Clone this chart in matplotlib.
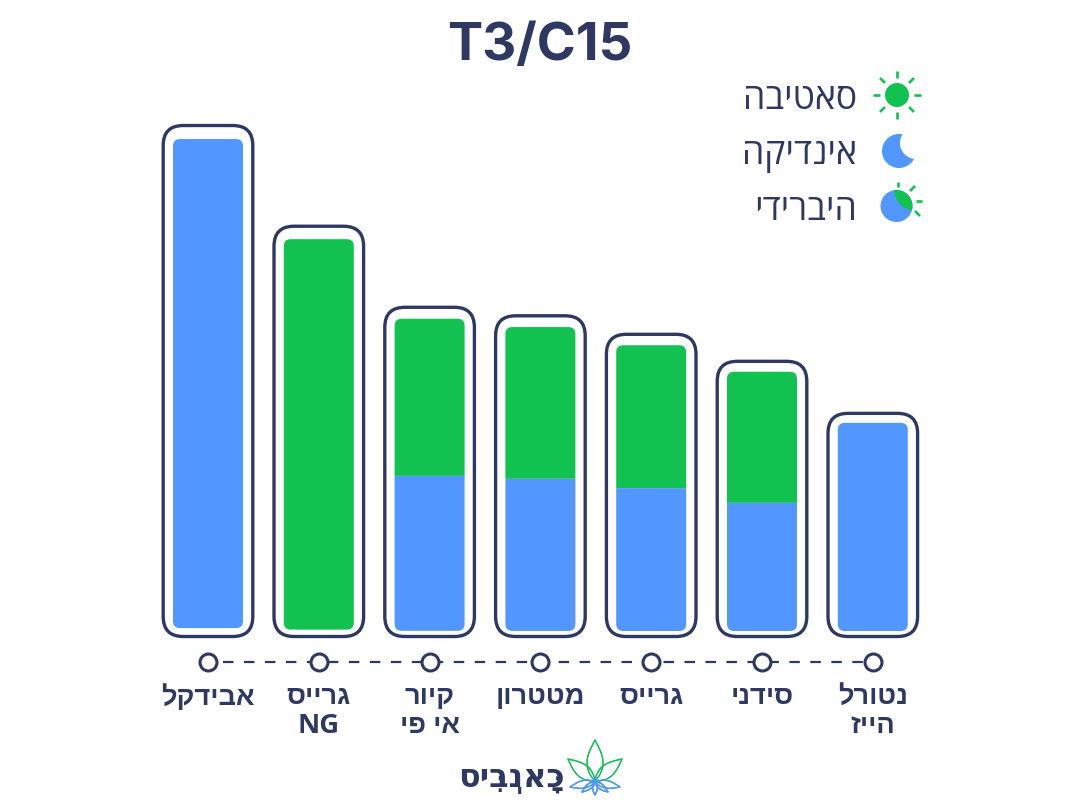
import unicodedata
import numpy as np
from matplotlib import pyplot as plt
from matplotlib.collections import LineCollection
from matplotlib.colors import to_rgb
from matplotlib.patches import Circle, PathPatch
from matplotlib.path import Path

plt.rcParams['font.family'] = ['Open Sans', 'Liberation Sans', 'DejaVu Sans']

# ===================== data =====================
title = "T3/C15"
strains = ["אבידקל", "גרייס\nNG", "קיור\nאי פי", "מטטרון", "גרייס", "סידני", "נטורל\nהייז"]
indica = [100.2, 0.0, 31.6, 31.0, 29.1, 26.1, 42.4]
sativa = [0.0, 79.8, 32.0, 30.9, 29.1, 26.7, 0.0]
legend_labels = ["סאטיבה", "אינדיקה", "היברידי"]
logo_text = "כָּאנְבִּיס"

NAVY = "#2f3763"
GREEN = "#12c250"
BLUE = "#5297ff"

W, H = 1080, 812
PX_PER_CAT = 110.8
PX_PER_UNIT = 4.91
BASE_X = 208
BASE_Y = 632


def clusters_of(s):
    clusters = []
    for ch in s:
        if unicodedata.combining(ch) and clusters:
            clusters[-1] += ch
        else:
            clusters.append(ch)
    return clusters


def rtl(s):
    # matplotlib has no bidi, so flip the letters but keep latin runs readable
    out = []
    run = []
    for c in clusters_of(s):
        if c.isascii() and c != " ":
            run.append(c)
        else:
            if run:
                out.append("".join(run))
                run = []
            # zero width marks go first so they land on the letter, not after it
            out.append(c[1:] + c[0])
    if run:
        out.append("".join(run))
    return "".join(reversed(out))


def rtl_lines(s):
    return "\n".join(rtl(line) for line in s.split("\n"))


fig = plt.figure(figsize=(W / 100, H / 100), dpi=100)

# value axes fills the figure, scales place the bars
ax = fig.add_axes([0, 0, 1, 1])
ax.set_xlim(-BASE_X / PX_PER_CAT, (W - BASE_X) / PX_PER_CAT)
ax.set_ylim(-(H - BASE_Y) / PX_PER_UNIT, BASE_Y / PX_PER_UNIT)
ax.axis("off")

# pixel overlay for title, legend, logo
ov = fig.add_axes([0, 0, 1, 1], facecolor="none")
ov.set_xlim(0, W)
ov.set_ylim(H, 0)
ov.axis("off")


def round_rect(x0, x1, y0, y1, r_top, r_bottom, **kw):
    rx_t, ry_t = r_top / PX_PER_CAT, r_top / PX_PER_UNIT
    rx_b, ry_b = r_bottom / PX_PER_CAT, r_bottom / PX_PER_UNIT
    verts = [(x0 + rx_b, y0), (x1 - rx_b, y0), (x1, y0), (x1, y0 + ry_b),
             (x1, y1 - ry_t), (x1, y1), (x1 - rx_t, y1),
             (x0 + rx_t, y1), (x0, y1), (x0, y1 - ry_t),
             (x0, y0 + ry_b), (x0, y0), (x0 + rx_b, y0), (x0 + rx_b, y0)]
    codes = [Path.MOVETO, Path.LINETO, Path.CURVE3, Path.CURVE3,
             Path.LINETO, Path.CURVE3, Path.CURVE3,
             Path.LINETO, Path.CURVE3, Path.CURVE3,
             Path.LINETO, Path.CURVE3, Path.CURVE3, Path.CLOSEPOLY]
    p = PathPatch(Path(verts, codes), **kw)
    ax.add_patch(p)
    return p


bar_half = 35 / PX_PER_CAT
frame_half = 44.8 / PX_PER_CAT
for i, (ind, sat) in enumerate(zip(indica, sativa)):
    total = ind + sat
    h_px = total * PX_PER_UNIT
    # inner bar sits a little higher in the taller frames
    lift = max(0.0, (h_px - 300) * 0.015) / PX_PER_UNIT
    pad_top = min(13.5, 5.5 + 0.019 * h_px) / PX_PER_UNIT
    top = total
    round_rect(i - frame_half, i + frame_half, -5.5 / PX_PER_UNIT, top + pad_top, 20, 20,
               facecolor="white", edgecolor=NAVY, linewidth=2.4, zorder=2)
    if ind > 0:
        round_rect(i - bar_half, i + bar_half, lift, ind, 0 if sat > 0 else 7, 7,
                   facecolor=BLUE, edgecolor="none", zorder=3)
    if sat > 0:
        y0 = ind if ind > 0 else lift
        round_rect(i - bar_half, i + bar_half, y0, top, 7, 0 if ind > 0 else 7,
                   facecolor=GREEN, edgecolor="none", zorder=3)

# timeline under the bars
positions = np.arange(len(strains))
line_y = -(662.7 - BASE_Y) / PX_PER_UNIT
ax.plot(positions, [line_y] * len(strains), color=NAVY, linewidth=1.6,
        linestyle=(2.7, (4.72, 4.72)), dash_capstyle="butt", zorder=2)
ax.plot(positions, [line_y] * len(strains), linestyle="none", marker="o", markersize=12.2,
        markerfacecolor="white", markeredgecolor=NAVY, markeredgewidth=2.2, zorder=3)

for i, name in enumerate(strains):
    ov.text(BASE_X + i * PX_PER_CAT, 684, rtl_lines(name), ha="center", va="top",
            fontsize=19.6, fontweight="bold", color=NAVY, linespacing=1.16)

ov.text(539.5, 46, title, ha="center", va="center", fontsize=38, fontweight="bold",
        color=NAVY, family=["Inter", "DejaVu Sans"])

# legend
for y, label in zip([100, 155, 211], legend_labels):
    ov.text(857, y, rtl(label), ha="right", va="center", fontsize=25.7, color=NAVY)


def ray_segs(segs, lw=1.9):
    for (x0, y0), (x1, y1) in segs:
        ov.plot([x0, x1], [y0, y1], color=GREEN, linewidth=lw, solid_capstyle="butt")


# sun
ov.add_patch(Circle((897, 96), 12, facecolor=GREEN, edgecolor="none"))
for a in np.radians(np.arange(0, 360, 45)):
    ray_segs([((897 + 17 * np.cos(a), 96 - 17 * np.sin(a)),
               (897 + 24 * np.cos(a), 96 - 24 * np.sin(a)))])

# moon
ov.add_patch(Circle((899, 152), 17, facecolor=BLUE, edgecolor="none"))
ov.add_patch(Circle((916, 144), 16, facecolor="white", edgecolor="none"))

# hybrid
ov.add_patch(Circle((896.5, 207), 16, facecolor=BLUE, edgecolor="none"))
clip = Circle((896.5, 207), 16, transform=ov.transData)
lens = Circle((916, 190), 22, facecolor=GREEN, edgecolor="none")
ov.add_patch(lens)
lens.set_clip_path(clip)
ray_segs([((898, 183), (898, 188)), ((910, 192), (915, 187)),
          ((916, 202), (922, 202)), ((915, 212), (920, 217))])

# logo text, niqqud kept in the string
ov.text(511, 787, rtl(logo_text), ha="center", va="baseline", fontsize=23, fontweight="bold",
        color=NAVY, family=["DejaVu Sans"])


# logo leaves: outline goes from green at the top to blue at the bottom
def leaf(p_base, p_tip, width, n=40):
    p_base = np.array(p_base, float)
    p_tip = np.array(p_tip, float)
    d = p_tip - p_base
    nrm = np.array([-d[1], d[0]]) / np.hypot(*d)
    t = np.linspace(0, 1, n)
    bulge = width * np.sin(np.pi * t ** 0.85)
    side_a = p_base + np.outer(t, d) + np.outer(bulge, nrm)
    side_b = p_base + np.outer(t, d) - np.outer(bulge, nrm)
    return np.vstack([side_a, side_b[::-1]])


leaves = [((595, 782), (595, 741), 8),
          ((595, 782), (622, 760), 6.5),
          ((595, 782), (568, 760), 6.5),
          ((595, 783), (620, 788), 3.8),
          ((595, 783), (570, 788), 3.8),
          ((595, 783), (608, 793), 2.6),
          ((595, 783), (582, 793), 2.6),
          ((595, 783), (595, 796), 2.4)]
g = np.array(to_rgb(GREEN))
b = np.array(to_rgb(BLUE))
for base, tip, wid in leaves:
    pts = leaf(base, tip, wid)
    segs = np.stack([pts[:-1], pts[1:]], axis=1)
    frac = np.clip((segs[:, :, 1].mean(axis=1) - 775) / 9, 0, 1)
    cols = g + (b - g) * frac[:, None]
    ov.add_collection(LineCollection(segs, colors=cols, linewidths=1.0, capstyle="round"))

fig.savefig("out.png", dpi=100, facecolor="white")
